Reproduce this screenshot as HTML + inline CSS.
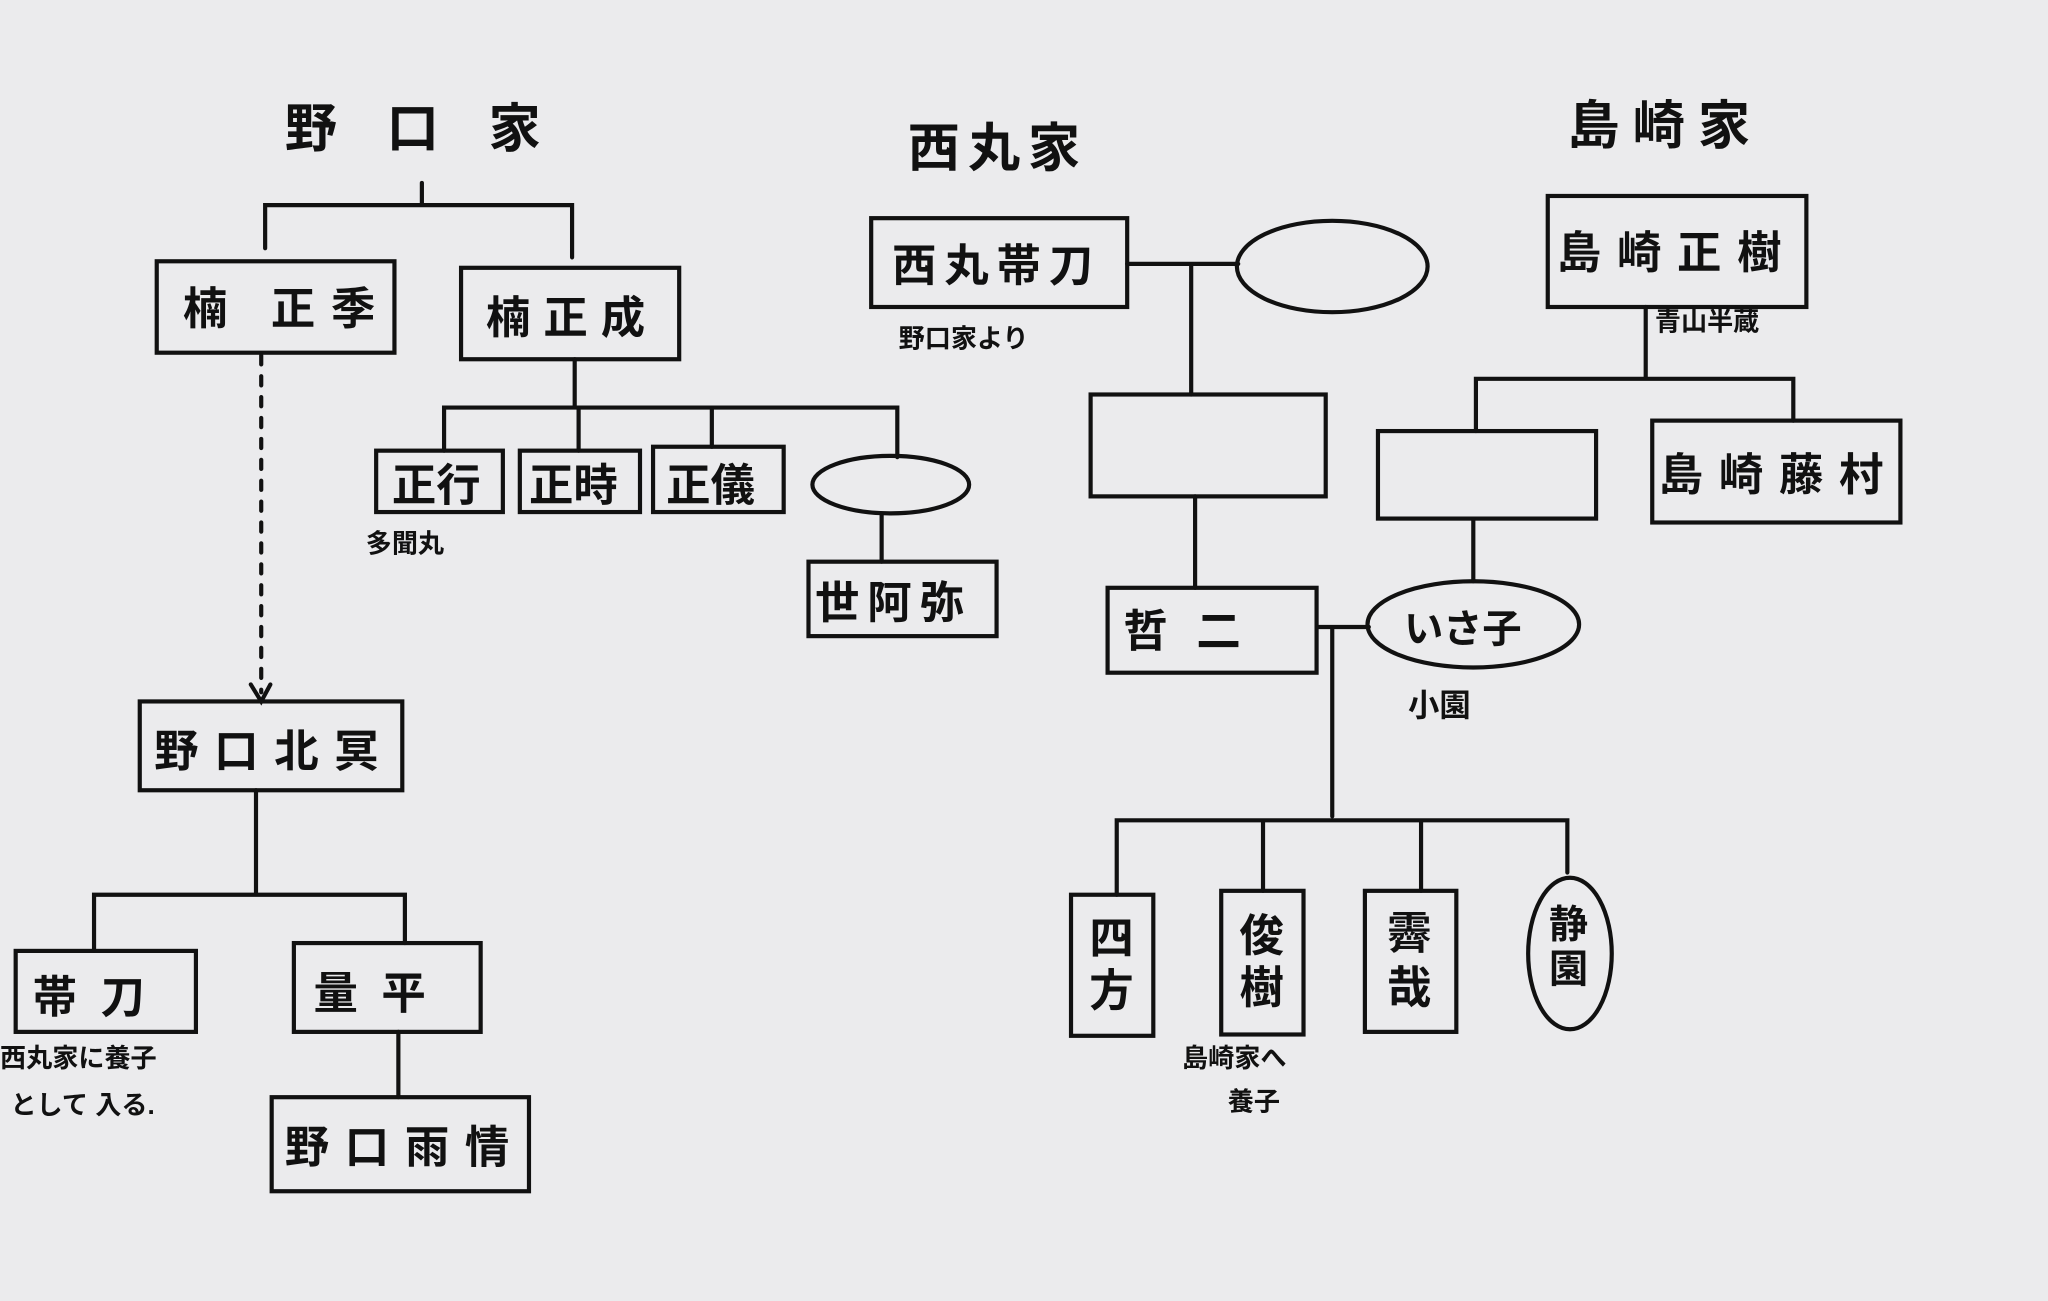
<!DOCTYPE html>
<html><head><meta charset="utf-8"><style>
html,body{margin:0;padding:0;background:#ebebed;}
svg{display:block;}
text{font-family:"Liberation Sans","Noto Sans CJK JP",sans-serif;font-weight:bold;fill:#111;}
</style></head><body>
<svg width="2048" height="1301" viewBox="0 0 1568 996" xmlns="http://www.w3.org/2000/svg">
<rect width="1568" height="996" fill="#ebebed"/>
<g stroke="#111" stroke-width="3.2" fill="none" stroke-linecap="round">
<path d="M323 140V157M203 190V157H438V197"/>
<rect x="120" y="200" width="182" height="70"/>
<rect x="353" y="205" width="167" height="70"/>
<path d="M200 272V530" stroke-dasharray="7 9"/>
<path d="M192 524L200 537L207 524"/>
<path d="M440 275V312M340 345V312H687V350M443 312V345M545 312V342"/>
<rect x="288" y="345" width="97" height="47"/>
<rect x="398" y="345" width="92" height="47"/>
<rect x="500" y="342" width="100" height="50"/>
<ellipse cx="682" cy="371" rx="60" ry="22"/>
<path d="M675 393V430"/>
<rect x="619" y="430" width="144" height="57"/>
<rect x="107" y="537" width="201" height="68"/>
<path d="M196 605V685M72 728V685H310V722"/>
<rect x="12" y="728" width="138" height="62"/>
<rect x="225" y="722" width="143" height="68"/>
<path d="M305 790V840"/>
<rect x="208" y="840" width="197" height="72"/>
<rect x="667" y="167" width="196" height="68"/>
<path d="M863 202H948M912 202V302"/>
<ellipse cx="1020" cy="204" rx="73" ry="35"/>
<rect x="835" y="302" width="180" height="78"/>
<path d="M915 380V450"/>
<rect x="848" y="450" width="160" height="65"/>
<path d="M1008 480H1048M1020 480V625"/>
<ellipse cx="1128" cy="478" rx="81" ry="33"/>
<path d="M855 685V628H1200V668M967 628V682M1088 628V682"/>
<rect x="820" y="685" width="63" height="108"/>
<rect x="935" y="682" width="63" height="110"/>
<rect x="1045" y="682" width="70" height="108"/>
<ellipse cx="1202" cy="730" rx="32" ry="58"/>
<rect x="1185" y="150" width="198" height="85"/>
<path d="M1260 235V290M1130 330V290H1373V322"/>
<rect x="1055" y="330" width="167" height="67"/>
<rect x="1265" y="322" width="190" height="78"/>
<path d="M1128 397V445"/>
</g>
<g font-size="40">
<text x="218" y="112" letter-spacing="38">野口家</text>
<text x="695" y="127" letter-spacing="6">西丸家</text>
<text x="1200" y="110" letter-spacing="10">島崎家</text>
</g>
<g font-size="34">
<text x="140" y="248" letter-spacing="12">楠 正季</text>
<text x="372" y="255" letter-spacing="10">楠正成</text>
<text x="300" y="383">正行</text>
<text x="405" y="383">正時</text>
<text x="510" y="383">正儀</text>
<text x="624" y="473" letter-spacing="6">世阿弥</text>
<text x="118" y="587" letter-spacing="12">野口北冥</text>
<text x="25" y="775" letter-spacing="18">帯刀</text>
<text x="240" y="772" letter-spacing="18">量平</text>
<text x="218" y="890" letter-spacing="12">野口雨情</text>
<text x="683" y="215" letter-spacing="6">西丸帯刀</text>
<text x="860" y="495" letter-spacing="22">哲二</text>
<text x="1075" y="492" font-size="30">いさ子</text>
<text x="1192" y="205" letter-spacing="12">島崎正樹</text>
<text x="1270" y="375" letter-spacing="12">島崎藤村</text>
<text x="834" y="730">四</text><text x="834" y="770">方</text>
<text x="949" y="728">俊</text><text x="949" y="768">樹</text>
<text x="1062" y="726">霽</text><text x="1062" y="768">哉</text>
<text x="1186" y="718" font-size="30">静</text><text x="1186" y="752" font-size="30">園</text>
</g>
<g font-size="20">
<text x="280" y="423">多聞丸</text>
<text x="688" y="266">野口家より</text>
<text x="1078" y="548" font-size="24">小園</text>
<text x="1267" y="253">青山半蔵</text>
<text x="0" y="817">西丸家に養子</text>
<text x="8" y="853">として 入る.</text>
<text x="905" y="817">島崎家へ</text>
<text x="940" y="850">養子</text>
</g>
</svg>
</body></html>
